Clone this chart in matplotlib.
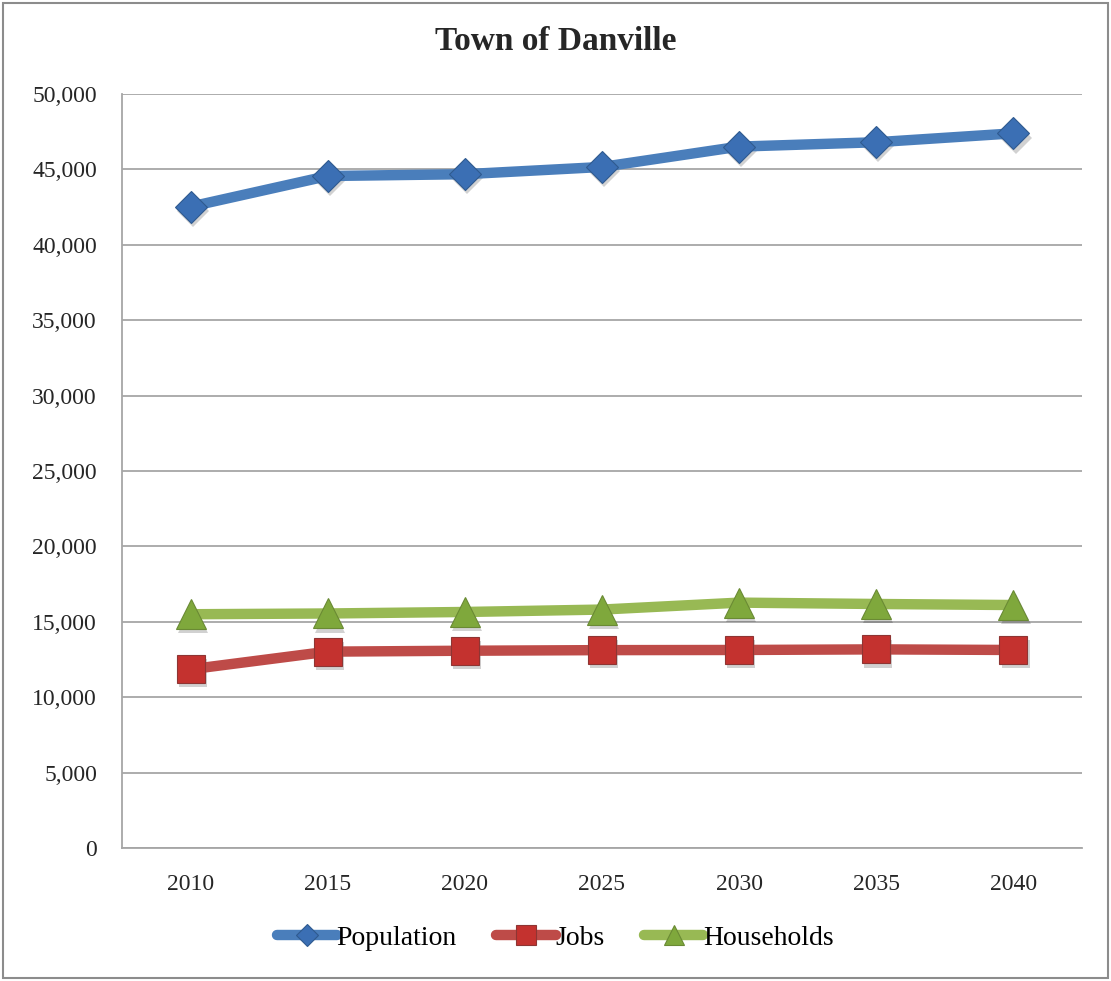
import matplotlib
matplotlib.use('Agg')
import matplotlib.pyplot as plt
from matplotlib.patches import Rectangle
from matplotlib.ticker import FuncFormatter
from matplotlib.transforms import offset_copy
import numpy as np

years = ['2010', '2015', '2020', '2025', '2030', '2035', '2040']
population = [42530, 44560, 44680, 45160, 46510, 46800, 47390]
jobs = [11850, 13020, 13080, 13120, 13130, 13170, 13130]
households = [15500, 15550, 15650, 15810, 16270, 16180, 16110]

plt.rcParams['font.family'] = ['Liberation Serif', 'DejaVu Serif']

fig = plt.figure(figsize=(11.11, 9.81), dpi=100)
ax = fig.add_axes([0.1098, 0.1356, 0.8641, 0.7686])

x = np.arange(len(years))
shadow_tr = offset_copy(ax.transData, fig=fig, x=1.5, y=-3, units='points')

series = [
    ('Population', population, '#4A7EBB', '#3B6FB4', '#2F5A8F', 'D', 16),
    ('Jobs', jobs, '#BE4B48', '#C4322F', '#8E3533', 's', 20),
    ('Households', households, '#98B954', '#7FA83C', '#6A8A34', '^', 21),
]

for name, vals, lc, fc, ec, mk, ms in series:
    # soft drop shadow under the markers
    ax.plot(x, vals, linestyle='none', marker=mk, markersize=ms,
            color='black', alpha=0.18, markeredgewidth=0,
            transform=shadow_tr, zorder=2)
    ax.plot(x, vals, color=lc, linewidth=7.5, solid_capstyle='round',
            marker=mk, markersize=ms, markerfacecolor=fc, markeredgecolor=ec,
            markeredgewidth=0.8, label=name, zorder=3)

ax.set_xlim(-0.5, len(years) - 0.5)
ax.set_ylim(0, 50000)
ax.set_yticks(np.arange(0, 50001, 5000))
ax.yaxis.set_major_formatter(FuncFormatter(lambda v, p: f'{int(v):,}'))
ax.set_xticks(x)
ax.set_xticklabels(years)
ax.tick_params(axis='both', length=0, labelsize=17, colors='#262626')
ax.tick_params(axis='y', pad=18)
ax.tick_params(axis='x', pad=19)

ax.grid(axis='y', color='#A6A6A6', linewidth=1.3, zorder=0)
ax.set_axisbelow(True)
for s in ['top', 'right']:
    ax.spines[s].set_visible(False)
for s in ['left', 'bottom']:
    ax.spines[s].set_color('#A6A6A6')
    ax.spines[s].set_linewidth(1.3)

fig.text(0.5, 1 - 42 / 981, 'Town of Danville', ha='center', va='center',
         fontsize=24, fontweight='bold', color='#262626')

leg = ax.legend(loc='center', ncol=3, frameon=False, fontsize=20,
                handlelength=2.15, handletextpad=0.0, columnspacing=1.4,
                markerscale=0.7, borderpad=0)
leg.set_bbox_to_anchor((0.5, 1 - 938 / 981), transform=fig.transFigure)

fig.patches.append(Rectangle((3 / 1111, 3 / 981), 1105 / 1111, 975 / 981,
                             transform=fig.transFigure, fill=False,
                             edgecolor='#8C8C8C', linewidth=1.5))

fig.savefig('out.png', dpi=100)
